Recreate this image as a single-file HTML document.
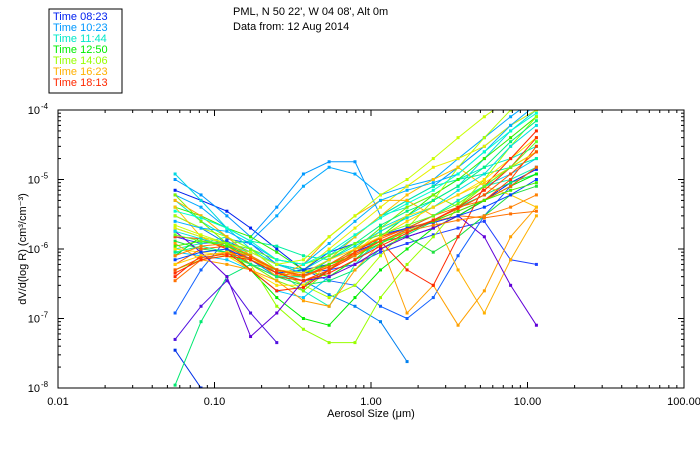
<!DOCTYPE html>
<html><head><meta charset="utf-8"><style>
body{margin:0;background:#fff;}
svg text{font-family:"Liberation Sans",sans-serif;}
</style></head><body>
<svg id="chart" width="700" height="450" viewBox="0 0 700 450" xmlns="http://www.w3.org/2000/svg">
<defs><clipPath id="plotclip"><rect x="58" y="110" width="626" height="278"/></clipPath></defs>
<rect width="700" height="450" fill="#fff"/>
<g>
<rect x="49" y="9" width="73" height="84" fill="#fff" stroke="#000" stroke-width="1"/>
<g id="legend-items" font-size="11"></g>
</g>
<text x="233" y="15" font-size="11">PML, N 50 22', W 04 08', Alt 0m</text>
<text x="233" y="30" font-size="11">Data from: 12 Aug 2014</text>
<g id="series" clip-path="url(#plotclip)"></g>
<rect x="58" y="110" width="626" height="278" fill="none" stroke="#000" stroke-width="1"/>
<g id="axes" font-size="11"></g>
<text x="371" y="417" font-size="11" text-anchor="middle">Aerosol Size (μm)</text>
<text transform="translate(26,249) rotate(-90)" font-size="11" text-anchor="middle">dV/d(log R) (cm³/cm⁻³)</text>
</svg>
<script>
const sizeBins = [0.056,0.082,0.12,0.17,0.25,0.37,0.54,0.79,1.15,1.7,2.5,3.6,5.3,7.8,11.4];
const legendTimes = ["Time 08:23","Time 10:23","Time 11:44","Time 12:50","Time 14:06","Time 16:23","Time 18:13"];
const legendColors = ["#0020f0","#0098ff","#00e8c8","#00ee00","#98ff00","#ffb000","#ff2800"];
const xTickLabels = ["0.01","0.10","1.00","10.00","100.00"];
const xTickValues = [0.01,0.1,1,10,100];
const yTickExps = [-8,-7,-6,-5,-4];
// values in units of 1e-6 cm3/cm-3
const seriesColors = ["#0020f0","#0030e8","#2040ff","#1060ff","#0098ff","#00a8ff","#0080f0","#00d8e0","#00e8c8","#00c8ff","#00f0a0","#00e870","#10f0b0","#00ee00","#30f000","#20e040","#98ff00","#b0ff00","#80f000","#e8f000","#ffe000","#ffb000","#ffa000","#ffc000","#ff7000","#ff6000","#ff2800","#ff4000","#6000d8","#5010e0",
"#0040ff","#00b0ff","#00e0e0","#00f080","#40f000","#c8ff00","#ffd000","#ff8000","#ff5000","#ff3000","#60ff20","#00ffd0"];
const seriesValues = [
[7,5,3.5,2,1,0.5,0.6,0.9,1.3,1.5,2,3,5,9,14],
[0.035,0.01,null,null,null,null,null,null,null,null,null,null,null,null,null],
[1.5,1.2,1.3,0.9,0.6,0.45,0.5,0.6,0.9,1.2,1.6,2,2.5,0.7,0.6],
[0.12,0.5,1.4,1.2,0.6,0.5,0.35,0.3,0.15,0.1,0.2,0.8,3,8,15],
[10,6,3,1.5,4,12,18,18,3,5,8,15,30,60,100],
[6,4,2,1.3,3,8,15,12,6,8,10,20,40,80,150],
[3,2,1.2,0.7,0.4,0.35,0.22,0.15,0.09,0.024,null,null,null,null,null],
[12,5,2,1,0.5,0.4,0.6,1,2,3,5,8,20,50,100],
[5,2.5,1.5,1,0.6,0.5,0.8,1.5,3,4,6,10,15,20,30],
[0.9,0.8,0.7,0.5,0.25,0.2,0.4,0.7,1.2,2,3,5,8,12,20],
[2,1.5,1.2,1.3,1.1,0.8,0.7,1.5,3,5,8,10,12,15,20],
[0.011,0.09,0.4,0.6,0.5,0.3,0.35,0.5,1,1.6,2.5,4,6,9,12],
[1,1.2,1.5,0.8,0.5,0.25,0.15,0.6,1.5,2,3,5,8,10,15],
[0.8,1.5,1,0.5,0.2,0.1,0.08,0.2,0.5,1,2,3,5,8,12],
[4,3,2,1.5,0.9,0.5,0.4,0.7,1.5,3,6,10,20,40,80],
[1.3,1,0.9,0.6,0.4,0.3,0.5,1,1.3,1.5,0.9,1.5,3,6,8],
[0.5,0.7,0.8,0.6,0.15,0.07,0.045,0.045,0.2,0.6,1.5,4,10,30,80],
[3,2,1.5,1,0.5,0.3,0.2,0.3,0.8,2,5,15,40,100,200],
[6,2.5,1.2,0.6,0.35,0.25,0.5,1,2,4,6,4,8,15,25],
[2,1.5,1.2,0.8,0.4,0.5,1,2,4,8,15,20,30,60,100],
[1,0.9,0.8,0.5,0.3,0.3,0.6,0.9,1.8,3,4,6,10,20,40],
[5,3,1.5,0.8,0.4,0.6,1.5,3,5,5,3,0.5,0.12,0.7,3],
[1.2,0.7,0.6,0.5,0.35,0.18,0.15,0.5,1.2,0.12,0.3,0.08,0.25,1.5,4],
[4,1.5,1,0.8,0.5,0.4,0.7,1.5,3,6,10,15,8,6,4],
[0.35,0.7,0.9,0.8,0.45,0.4,0.6,1,1.4,2,2.5,3,2.8,3.2,3.5],
[0.6,1,1.1,0.7,0.5,0.4,0.6,0.9,1.5,2,3,4,5,8,15],
[0.4,0.8,0.9,0.5,0.25,0.28,0.5,0.8,1.3,0.5,0.3,1.5,8,20,50],
[1.5,1.4,1,0.6,0.4,0.35,0.5,0.9,1.5,2,2.5,3.5,5,10,30],
[1.8,0.9,0.4,0.055,0.12,0.35,0.4,0.6,1,1.5,2,3,1.5,0.3,0.08],
[0.05,0.15,0.35,0.12,0.045,null,null,null,null,null,null,null,null,null,null],
[0.7,0.9,1,0.7,0.45,0.5,0.9,1.2,1.6,2,2.4,3,4,6,10],
[2.5,2,1.8,1.2,0.7,0.6,1.2,2.5,5,7,9,12,25,60,120],
[1.8,1.4,1.1,0.9,0.6,0.45,0.7,1.1,1.8,2.8,4,7,12,30,60],
[0.9,1.1,0.9,0.6,0.4,0.4,0.7,1.2,2.2,3.5,5,8,15,35,70],
[1.1,1.3,1.1,0.8,0.5,0.45,0.6,0.8,1.2,1.8,2.5,3.5,5,7,9],
[2.2,1.6,1.2,0.9,0.6,0.7,1.5,3,6,10,20,40,80,150,null],
[0.6,0.8,0.9,0.7,0.5,0.45,0.7,1,1.5,2.5,4,6,9,15,25],
[0.8,1.1,1.2,0.8,0.5,0.4,0.55,0.8,1.3,1.8,2.2,2.6,3,4,6],
[0.5,0.75,0.85,0.75,0.5,0.42,0.55,0.85,1.3,1.9,2.6,3.8,6,12,25],
[0.45,0.7,0.8,0.7,0.45,0.35,0.45,0.7,1.1,1.7,2.6,4,7,15,40],
[1.6,1.3,1.2,1,0.7,0.6,0.8,1.2,1.6,2.2,3,4.5,8,15,35],
[3.5,2.8,2,1.3,0.7,0.6,0.9,1.6,2.8,4.5,7,12,25,50,90]
];
const NS="http://www.w3.org/2000/svg";
const X0=58,X1=684,Y0=110,Y1=388;
function xScale(v){return X0+(Math.log10(v)+2)/4*(X1-X0);}
function yScale(v){return Y0+(-4-Math.log10(v*1e-6))/4*(Y1-Y0);}
function mk(tag,attrs,parent){const e=document.createElementNS(NS,tag);for(const k in attrs)e.setAttribute(k,attrs[k]);parent.appendChild(e);return e;}
const gS=document.getElementById('series');
seriesValues.forEach((vals,si)=>{
  const g=mk('g',{},gS);
  
  
  const col=seriesColors[si];
  let d='',pen=false;
  vals.forEach((v,i)=>{
    if(v==null){pen=false;return;}
    d+=(pen?'L':'M')+xScale(sizeBins[i]).toFixed(1)+' '+yScale(v).toFixed(1)+' ';pen=true;
  });
  mk('path',{d:d,fill:'none',stroke:col,'stroke-width':1},g);
  vals.forEach((v,i)=>{
    if(v==null)return;
    const r=mk('rect',{x:xScale(sizeBins[i])-1.5,y:yScale(v)-1.5,width:3,height:3,fill:col},g);
    
    
  });
});
const gA=document.getElementById('axes');
xTickValues.forEach((v,i)=>{
  const x=xScale(v);
  mk('line',{x1:x,y1:Y1,x2:x,y2:Y1-6,stroke:'#000'},gA);
  mk('line',{x1:x,y1:Y0,x2:x,y2:Y0+6,stroke:'#000'},gA);
  const t=mk('text',{x:x,y:Y1+17,'text-anchor':'middle'},gA);
  
  
  t.textContent=xTickLabels[i];
  if(i<xTickValues.length-1){for(let m=2;m<10;m++){const xm=xScale(v*m);
    mk('line',{x1:xm,y1:Y1,x2:xm,y2:Y1-3,stroke:'#000'},gA);
    mk('line',{x1:xm,y1:Y0,x2:xm,y2:Y0+3,stroke:'#000'},gA);}}
});
yTickExps.forEach((e,i)=>{
  const y=yScale(Math.pow(10,e+6));
  mk('line',{x1:X0,y1:y,x2:X0+6,y2:y,stroke:'#000'},gA);
  mk('line',{x1:X1,y1:y,x2:X1-6,y2:y,stroke:'#000'},gA);
  const t=mk('text',{x:X0-18,y:y+4,'text-anchor':'end'},gA);
  
  
  t.textContent='10';
  const s=mk('text',{x:X0-17,y:y-1,'font-size':8},gA);
  s.textContent=String(e);
  if(i<yTickExps.length-1){for(let m=2;m<10;m++){const ym=yScale(m*Math.pow(10,e+6));
    mk('line',{x1:X0,y1:ym,x2:X0+3,y2:ym,stroke:'#000'},gA);
    mk('line',{x1:X1,y1:ym,x2:X1-3,y2:ym,stroke:'#000'},gA);}}
});
const gL=document.getElementById('legend-items');
legendTimes.forEach((t,i)=>{
  const e=mk('text',{x:53,y:20+i*11,fill:legendColors[i]},gL);
  
  
  e.textContent=t;
});
</script>
</body></html>
